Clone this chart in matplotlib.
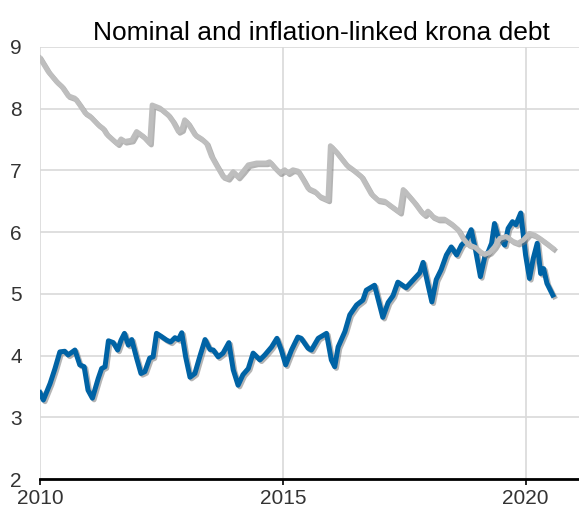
import matplotlib
matplotlib.use("Agg")
import matplotlib.pyplot as plt
import matplotlib.patheffects as pe

plt.rcParams['font.family'] = ['Liberation Sans', 'DejaVu Sans']

title = "Nominal and inflation-linked krona debt"

gray_x = [2010.00, 2010.17, 2010.34, 2010.45, 2010.58, 2010.72, 2010.82, 2010.93, 2011.03, 2011.20,
          2011.30, 2011.37, 2011.51, 2011.60, 2011.67, 2011.75, 2011.89, 2011.99, 2012.13, 2012.26,
          2012.31, 2012.47, 2012.64, 2012.74, 2012.85, 2012.92, 2012.98, 2013.05, 2013.19, 2013.33,
          2013.43, 2013.53, 2013.63, 2013.77, 2013.87, 2013.98, 2014.08, 2014.18, 2014.29, 2014.46,
          2014.66, 2014.73, 2014.84, 2014.94, 2015.04, 2015.11, 2015.21, 2015.31, 2015.42, 2015.52,
          2015.66, 2015.76, 2015.93, 2015.98, 2016.10, 2016.31, 2016.45, 2016.62, 2016.72, 2016.82,
          2016.96, 2017.10, 2017.20, 2017.34, 2017.41, 2017.48, 2017.58, 2017.72, 2017.85, 2017.92,
          2017.99, 2018.09, 2018.20, 2018.33, 2018.48, 2018.61, 2018.72, 2018.82, 2018.97, 2019.07,
          2019.16, 2019.26, 2019.36, 2019.47, 2019.60, 2019.74, 2019.84, 2019.95, 2020.08, 2020.19,
          2020.29, 2020.43, 2020.56]
gray_y = [8.82, 8.60, 8.44, 8.36, 8.21, 8.17, 8.06, 7.93, 7.88, 7.74,
          7.68, 7.59, 7.49, 7.43, 7.51, 7.47, 7.49, 7.63, 7.55, 7.44,
          8.06, 8.01, 7.90, 7.79, 7.63, 7.66, 7.82, 7.76, 7.58, 7.51,
          7.44, 7.23, 7.09, 6.90, 6.87, 6.98, 6.89, 6.98, 7.09, 7.12,
          7.12, 7.14, 7.04, 6.96, 7.01, 6.96, 7.01, 6.99, 6.85, 6.71,
          6.66, 6.58, 6.52, 7.40, 7.30, 7.09, 7.01, 6.90, 6.76, 6.62,
          6.52, 6.50, 6.44, 6.36, 6.32, 6.69, 6.60, 6.47, 6.33, 6.28,
          6.34, 6.25, 6.21, 6.21, 6.13, 6.04, 5.89, 5.80, 5.75, 5.68,
          5.64, 5.67, 5.76, 5.90, 5.93, 5.85, 5.82, 5.87, 5.98, 5.95,
          5.90, 5.82, 5.74]

blue_x = [2010.00, 2010.07, 2010.21, 2010.31, 2010.41, 2010.51, 2010.58, 2010.72, 2010.82, 2010.91,
          2010.99, 2011.08, 2011.20, 2011.27, 2011.34, 2011.41, 2011.51, 2011.60, 2011.67, 2011.74,
          2011.82, 2011.89, 2011.99, 2012.08, 2012.16, 2012.26, 2012.33, 2012.40, 2012.50, 2012.61,
          2012.69, 2012.78, 2012.85, 2012.92, 2013.00, 2013.09, 2013.19, 2013.29, 2013.40, 2013.50,
          2013.57, 2013.67, 2013.77, 2013.89, 2013.98, 2014.08, 2014.18, 2014.29, 2014.39, 2014.53,
          2014.63, 2014.77, 2014.88, 2014.97, 2015.06, 2015.18, 2015.31, 2015.38, 2015.52, 2015.59,
          2015.73, 2015.90, 2016.00, 2016.07, 2016.14, 2016.28, 2016.38, 2016.52, 2016.65, 2016.72,
          2016.89, 2017.06, 2017.17, 2017.27, 2017.37, 2017.54, 2017.68, 2017.82, 2017.89, 2017.99,
          2018.07, 2018.16, 2018.26, 2018.37, 2018.47, 2018.58, 2018.68, 2018.78, 2018.88, 2018.97,
          2019.07, 2019.16, 2019.23, 2019.30, 2019.36, 2019.43, 2019.50, 2019.57, 2019.64, 2019.73,
          2019.80, 2019.90, 2019.94, 2020.00, 2020.08, 2020.16, 2020.24, 2020.31, 2020.37, 2020.44,
          2020.56]
blue_y = [3.40, 3.28, 3.55, 3.79, 4.06, 4.07, 4.01, 4.09, 3.85, 3.82,
          3.44, 3.31, 3.63, 3.79, 3.82, 4.24, 4.21, 4.09, 4.25, 4.36,
          4.17, 4.26, 3.96, 3.71, 3.74, 3.96, 3.98, 4.36, 4.31, 4.25,
          4.22, 4.29, 4.26, 4.37, 3.98, 3.65, 3.71, 3.98, 4.26, 4.10,
          4.09, 3.98, 4.04, 4.21, 3.77, 3.52, 3.69, 3.79, 4.04, 3.93,
          4.01, 4.14, 4.28, 4.09, 3.85, 4.09, 4.30, 4.28, 4.12, 4.09,
          4.28, 4.36, 3.93, 3.82, 4.14, 4.39, 4.66, 4.82, 4.90, 5.06,
          5.14, 4.62, 4.86, 4.97, 5.19, 5.10, 5.22, 5.34, 5.51, 5.15,
          4.87, 5.23, 5.39, 5.63, 5.76, 5.63, 5.79, 5.87, 6.04, 5.71,
          5.28, 5.60, 5.68, 5.82, 6.14, 5.93, 5.87, 5.79, 6.06, 6.17,
          6.12, 6.31, 6.04, 5.63, 5.25, 5.58, 5.82, 5.33, 5.41, 5.17,
          4.98]

x_ticks = [2010, 2015, 2020]
y_ticks = [2, 3, 4, 5, 6, 7, 8, 9]

fig = plt.figure(figsize=(5.79, 5.08), dpi=100)
ax = fig.add_axes([0.069, 0.057, 0.931, 0.8505])

shadow = lambda: [pe.SimpleLineShadow(offset=(1.2, -1.2), shadow_color='#777777', alpha=0.55),
                  pe.Normal()]

ax.plot(blue_x, blue_y, color='#0063A5', lw=3.6, solid_joinstyle='round',
        path_effects=shadow(), zorder=3)
ax.plot(gray_x, gray_y, color='#BEBEBE', lw=3.6, solid_joinstyle='round',
        path_effects=shadow(), zorder=4)

ax.set_xlim(2010, 2021.1)
ax.set_ylim(2, 9)
ax.set_xticks(x_ticks)
ax.set_xticklabels([str(t) for t in x_ticks])
ax.set_yticks(y_ticks)
ax.set_yticklabels([str(t) for t in y_ticks])

ax.grid(True, color='#D9D9D9', lw=1.2)
ax.set_axisbelow(True)
for s in ['top', 'right', 'left']:
    ax.spines[s].set_visible(False)
ax.spines['bottom'].set_color('black')
ax.spines['bottom'].set_linewidth(2)
ax.spines['bottom'].set_zorder(5)

ax.tick_params(axis='y', length=0, pad=13, labelsize=15, labelcolor='#333333')
ax.tick_params(axis='x', length=4, width=1.2, color='black', pad=3, labelsize=15, labelcolor='#333333')

fig.text(0.556, 0.935, title, ha='center', va='center', fontsize=19, color='black')

fig.savefig('out.png', dpi=100)
